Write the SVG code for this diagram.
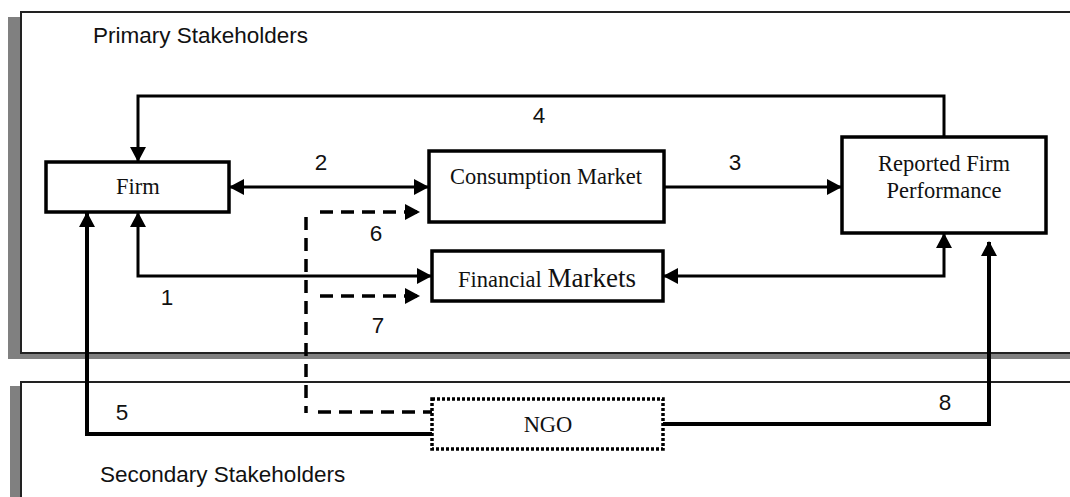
<svg xmlns="http://www.w3.org/2000/svg" width="1070" height="497" viewBox="0 0 1070 497">
  <style>
    .panel { fill: #ffffff; stroke: #222222; stroke-width: 2; }
    .shadow { fill: #808080; }
    .box { fill: #ffffff; stroke: #000000; stroke-width: 3.5; }
    .dotted { fill: #ffffff; stroke: #000000; stroke-width: 3.5; stroke-dasharray: 3 2; }
    .serif { font-family: "Liberation Serif", "Times New Roman", serif; font-size: 22.5px; fill: #111111; text-anchor: middle; }
    .sans { font-family: "Liberation Sans", Arial, sans-serif; font-size: 22.5px; fill: #111111; }
    .num { font-family: "Liberation Sans", Arial, sans-serif; font-size: 22.5px; fill: #111111; text-anchor: middle; }
    .link { fill: none; stroke: #000000; stroke-width: 3; }
    .thick { fill: none; stroke: #000000; stroke-width: 4; }
    .dash { fill: none; stroke: #000000; stroke-width: 3.5; stroke-dasharray: 13 8; }
  </style>
  <defs>
    <marker id="head" markerUnits="userSpaceOnUse" markerWidth="15" markerHeight="16" viewBox="0 0 15 16" refX="14" refY="8" orient="auto-start-reverse">
      <path d="M0,0 L15,8 L0,16 z" fill="#000000"/>
    </marker>
  </defs>

  <!-- stakeholder panels -->
  <g id="primary-panel">
    <rect class="shadow" x="8" y="17" width="1080" height="342"/>
    <rect class="panel" x="21" y="12" width="1080" height="341"/>
    <text class="sans" x="93" y="43">Primary Stakeholders</text>
  </g>
  <g id="secondary-panel">
    <rect class="shadow" x="10" y="386" width="1080" height="130"/>
    <rect class="panel" x="21" y="382" width="1080" height="140"/>
    <text class="sans" x="100" y="482">Secondary Stakeholders</text>
  </g>

  <!-- connectors -->
  <g id="connectors">
    <path class="link" d="M944 137 V96 H138 V161" marker-end="url(#head)"/>
    <path class="link" d="M230 187 H428" marker-start="url(#head)" marker-end="url(#head)"/>
    <path class="link" d="M664 187 H841" marker-end="url(#head)"/>
    <path class="link" d="M431 276 H138 V213" marker-start="url(#head)" marker-end="url(#head)"/>
    <path class="link" d="M664 276 H944 V234" marker-start="url(#head)" marker-end="url(#head)"/>
    <path class="thick" d="M432 434 H87 V213" marker-end="url(#head)"/>
    <path class="thick" d="M663 424 H989 V242" marker-end="url(#head)"/>
    <path class="dash" d="M306 217 V413"/>
    <path class="dash" d="M318 412 H432"/>
    <path class="dash" d="M320 212 H419" marker-end="url(#head)"/>
    <path class="dash" d="M320 296 H419" marker-end="url(#head)"/>
    <text class="num" x="167" y="305">1</text>
    <text class="num" x="321" y="170">2</text>
    <text class="num" x="735" y="170">3</text>
    <text class="num" x="539" y="123">4</text>
    <text class="num" x="122" y="420">5</text>
    <text class="num" x="376" y="241">6</text>
    <text class="num" x="378" y="333">7</text>
    <text class="num" x="945" y="410">8</text>
  </g>

  <!-- nodes -->
  <g id="firm">
    <rect class="box" x="46" y="162" width="183" height="50"/>
    <text class="serif" x="138" y="194">Firm</text>
  </g>
  <g id="consumption-market">
    <rect class="box" x="429" y="151" width="235" height="71"/>
    <text class="serif" x="546" y="184">Consumption Market</text>
  </g>
  <g id="financial-markets">
    <rect class="box" x="432" y="251" width="231" height="50"/>
    <text class="serif" x="547" y="287">Financial <tspan font-size="27px">Markets</tspan></text>
  </g>
  <g id="reported-performance">
    <rect class="box" x="842" y="137" width="204" height="96"/>
    <text class="serif" x="944" y="171">Reported Firm</text>
    <text class="serif" x="944" y="198">Performance</text>
  </g>
  <g id="ngo">
    <rect class="dotted" x="432" y="399" width="231" height="50"/>
    <text class="serif" x="548" y="432">NGO</text>
  </g>
</svg>
